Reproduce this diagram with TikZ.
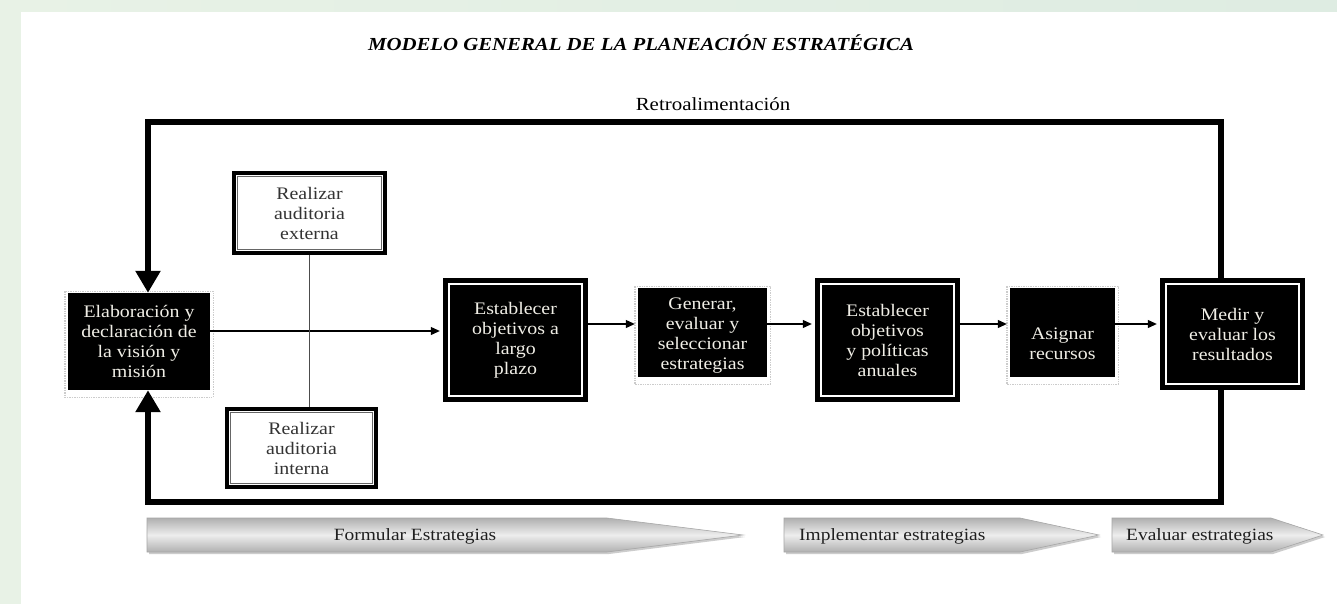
\documentclass[tikz,border=0pt]{standalone}
\usepackage{fontspec}
\setmainfont{Liberation Serif}[FakeStretch=1.13]
\usetikzlibrary{arrows.meta,backgrounds,calc}
\definecolor{bgA}{RGB}{232,242,230}
\definecolor{bgB}{RGB}{222,236,226}
\definecolor{boxtext}{RGB}{240,238,230}
\tikzset{
  boxtxt/.style={font=\fontsize{17.6}{20}\selectfont, align=center, inner sep=0pt},
  shbox/.style={boxtxt, fill=black, text=boxtext},
  dblbox/.style={boxtxt, fill=black, text=boxtext,
    path picture={\draw[white,line width=2pt]
      ([shift={(6pt,6pt)}]path picture bounding box.south west) rectangle
      ([shift={(-6pt,-6pt)}]path picture bounding box.north east);}},
  audbox/.style={boxtxt, fill=white, draw=black, line width=4.5pt, text=black!80,
    path picture={\draw[black!60,line width=1pt]
      ([shift={(3.8pt,3.8pt)}]path picture bounding box.south west) rectangle
      ([shift={(-3.8pt,-3.8pt)}]path picture bounding box.north east);}},
  inlabel/.style={boxtxt, text=boxtext},
  shadowline/.style={draw=gray!40, densely dotted, line width=1.4pt},
  conn/.style={line width=1.1pt, -{Triangle[length=9pt,width=8pt]}, shorten >=3pt},
  audline/.style={line width=1pt, draw=black!70},
  fb/.style={line width=6pt, line join=miter},
  fbarrow/.style={fb, -{Triangle[length=22pt,width=24pt]}},
  phase/.style={top color=gray!62, bottom color=gray!62, middle color=gray!14, draw=gray!70, line width=0.6pt},
  phaseshadow/.style={fill=gray!40},
  phasetxt/.style={font=\fontsize{17.2}{20}\selectfont, text=black!88, inner sep=0pt},
}
\begin{document}
\begin{tikzpicture}[x=1pt,y=-1pt]
\useasboundingbox (0,0) rectangle (1337,604);
\begin{scope}[on background layer]
  \fill[white] (0,0) rectangle (1337,604);
  \shade[left color=bgA,right color=bgB] (0,0) rectangle (1337,12);
  \fill[bgA] (0,12) rectangle (21,604);
\end{scope}

% titles
\node[inner sep=0pt] (title) at (641,43) {\fontsize{18.4}{20}\selectfont\bfseries\itshape MODELO GENERAL DE LA PLANEACIÓN ESTRATÉGICA};
\node[inner sep=0pt] (retro) at (713,104) {\fontsize{18.5}{20}\selectfont Retroalimentación};

% boxes
\node[shbox, minimum width=142pt, minimum height=97pt] (elab) at (139,341.5) {Elaboración y\\declaración de\\la visión y\\misión};
\node[audbox, minimum width=151pt, minimum height=80pt] (ext) at (309.5,213) {Realizar\\auditoria\\externa};
\node[audbox, minimum width=149pt, minimum height=78pt] (int) at (301.5,448) {Realizar\\auditoria\\interna};
\node[dblbox, minimum width=145pt, minimum height=124pt] (est1) at (515.5,340) {Establecer\\objetivos a\\largo\\plazo};
\node[shbox, minimum width=129pt, minimum height=89pt,
      label={[inlabel, name=gentxt, yshift=-3pt]center:{Generar,\\evaluar y\\seleccionar\\estrategias}}] (gen) at (702.5,332.5) {};
\node[dblbox, minimum width=145pt, minimum height=124pt] (est2) at (887.5,340) {Establecer\\objetivos\\y políticas\\anuales};
\node[shbox, minimum width=105pt, minimum height=89pt,
      label={[inlabel, name=asigtxt, yshift=-11pt]center:{Asignar\\recursos}}] (asig) at (1062.5,332.5) {};
\node[dblbox, minimum width=145pt, minimum height=112pt] (medir) at (1232.5,334) {Medir y\\evaluar los\\resultados};

\begin{scope}[on background layer]
  \foreach \n in {elab,gen,asig}
    \draw[shadowline] ([shift={(-3pt,1.5pt)}]\n.north west) rectangle ([shift={(3pt,-7pt)}]\n.south east);
\end{scope}

% connectors
\coordinate (ya) at (0,331);
\coordinate (yb) at (0,324);
\draw[conn] (elab.east |- ya) -- (est1.west |- ya);
\draw[conn] (est1.east |- yb) -- (gen.west |- yb);
\draw[conn] (gen.east |- yb) -- (est2.west |- yb);
\draw[conn] (est2.east |- yb) -- (asig.west |- yb);
\draw[conn] (asig.east |- yb) -- (medir.west |- yb);
\draw[audline] (ext.south) -- (ext.south |- int.north);

% feedback loop
\coordinate (ftl) at (148,122);
\coordinate (ftr) at (1221,122);
\coordinate (fbl) at (148,502);
\coordinate (fbr) at (1221,502);
\draw[fbarrow] (medir.north -| ftr) -- (ftr) -- (ftl) -- (ftl |- elab.north);
\draw[fbarrow] (medir.south -| fbr) -- (fbr) -- (fbl) -- (fbl |- elab.south);

% phases
\fill[phaseshadow] (149,520) -- (609,520) -- (745,537) -- (609,554) -- (149,554) -- cycle;
\shadedraw[phase] (147,518) -- (607,518) -- (743,535) -- (607,552) -- (147,552) -- cycle;
\node[phasetxt] (formular) at (415,536) {Formular Estrategias};
\fill[phaseshadow] (786,520) -- (1022,520) -- (1101,537) -- (1022,554) -- (786,554) -- cycle;
\shadedraw[phase] (784,518) -- (1020,518) -- (1099,535) -- (1020,552) -- (784,552) -- cycle;
\node[phasetxt, anchor=west] (implementar) at (799,536) {Implementar estrategias};
\fill[phaseshadow] (1114,520) -- (1273,520) -- (1325,537) -- (1273,554) -- (1114,554) -- cycle;
\shadedraw[phase] (1112,518) -- (1271,518) -- (1323,535) -- (1271,552) -- (1112,552) -- cycle;
\node[phasetxt, anchor=west] (evaluar) at (1126,536) {Evaluar estrategias};
\end{tikzpicture}
\end{document}
